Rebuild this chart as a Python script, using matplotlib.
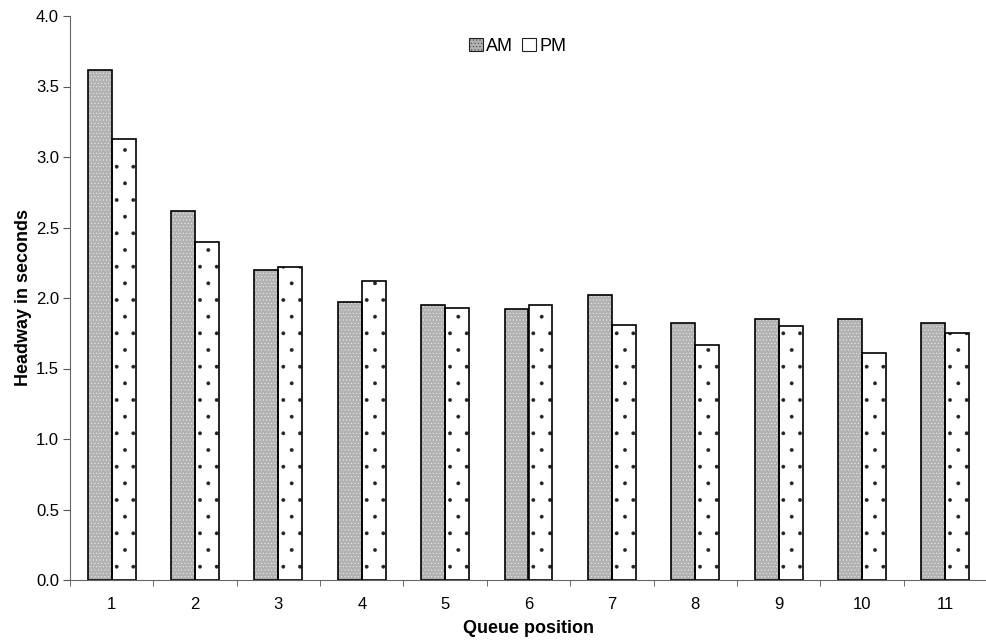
import matplotlib.pyplot as plt
import numpy as np

plt.rcParams['font.family'] = ['Liberation Sans', 'DejaVu Sans']
plt.rcParams['hatch.linewidth'] = 0.3

# data
positions = [1, 2, 3, 4, 5, 6, 7, 8, 9, 10, 11]
am = [3.62, 2.62, 2.20, 1.97, 1.95, 1.92, 2.02, 1.82, 1.85, 1.85, 1.82]
pm = [3.13, 2.40, 2.22, 2.12, 1.93, 1.95, 1.81, 1.67, 1.80, 1.61, 1.75]
series_names = ['AM', 'PM']

fig = plt.figure(figsize=(9.87, 6.42), dpi=100)
ax = fig.add_axes([70/987, 62/642, 1 - 70/987, (580 - 16)/642])

x = np.array(positions)
w = 0.287

# hatch layer first (dots), then black outlines on top
ax.bar(x - w/2, am, w, color='#b2b2b2', edgecolor='#f6f6f6', hatch='.....', linewidth=0)
ax.bar(x + w/2, pm, w, color='white', edgecolor='#222222', hatch='.', linewidth=0)
ax.bar(x - w/2, am, w, fill=False, edgecolor='black', linewidth=1.2)
ax.bar(x + w/2, pm, w, fill=False, edgecolor='black', linewidth=1.2)

# legend handles
h_am = plt.Rectangle((0, 0), 1, 1, facecolor='#b2b2b2', edgecolor='#222222', hatch='.....', linewidth=0.8)
h_pm = plt.Rectangle((0, 0), 1, 1, facecolor='white', edgecolor='#222222', linewidth=0.8)
ax.legend([h_am, h_pm], series_names, loc='upper center', bbox_to_anchor=(0.4885, 0.99),
          ncol=2, frameon=False, fontsize=13, handlelength=0.75, handleheight=0.75,
          handletextpad=0.2, columnspacing=0.5)

ax.set_ylim(0, 4.0)
ax.set_yticks(np.arange(0, 4.01, 0.5))
ax.set_yticklabels(['%.1f' % v for v in np.arange(0, 4.01, 0.5)])
ax.set_xlim(0.5, 0.5 + (987 - 70) / 83.6)
ax.set_xticks(positions)
ax.set_xticks(np.arange(0.5, 11.6, 1.0), minor=True)
ax.tick_params(axis='x', which='major', length=0, labelsize=12, pad=12)
ax.tick_params(axis='x', which='minor', length=4, direction='out', color='#555555')
ax.tick_params(axis='y', length=5, direction='out', labelsize=12, color='#555555', pad=3)

for s in ['top', 'right']:
    ax.spines[s].set_visible(False)
ax.spines['left'].set_color('#666666')
ax.spines['bottom'].set_color('#666666')

ax.set_xlabel('Queue position', fontsize=13, fontweight='bold', labelpad=6)
ax.set_ylabel('Headway in seconds', fontsize=13, fontweight='bold', labelpad=3)

fig.savefig('out.png', dpi=100)
